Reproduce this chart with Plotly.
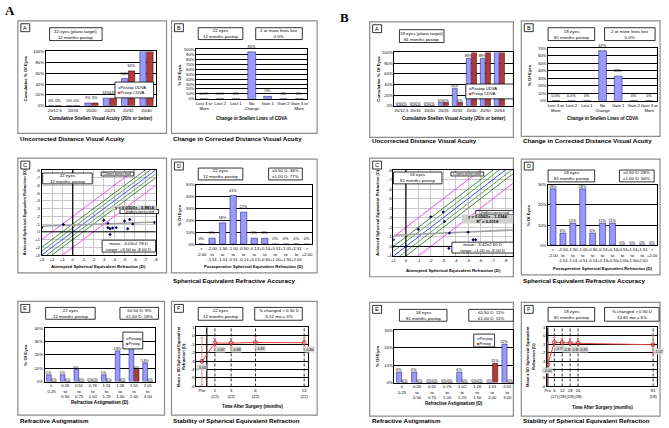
import plotly.graph_objects as go

W, H = 669, 428
BLUE = "#9999FF"
BLUE_EDGE = "#2A2A7A"
RED = "#B23A3A"
FONT = "Liberation Sans"

# ---------------- DATA ----------------
# Group A: 22 eyes, 12 months postop
a_udva_cats = ["20/12.5", "20/16", "20/20", "20/25", "20/32", "20/40"]
a_udva_postop = [0, 0, 5, 14, 50, 100]
a_cdva_preop = [0, 0, 5, 14, 64, 100]

change_cats = ["Lost 3 or<br>More", "Lost 2", "Lost 1", "No<br>Change", "Gain 1", "Gain 2", "Gain 3 or<br>More"]
a_change = [0, 0, 0, 95, 5, 0, 0]
a_change_labels = ["0.0%", "0.0%", "0%", "95%", "5%", "0%", "0%"]

a_attempted = [3.0, 0.9, -3.0, -3.4, -3.4, -3.6, -3.85, -4.2, -3.6, -5.0, -5.5, -5.3, -5.8, -7.9]
a_achieved = [-0.55, -0.95, -1.5, -1.1, -0.55, -0.4, -0.5, -0.55, 0.35, -1.4, -1.6, -0.4, -1.0, -1.2]
a_fit = [0.0503, -0.8814]

se_cats = ["<<br>-2.00", "-2.00<br>to<br>-1.51", "-1.50<br>to<br>-1.01", "-1.00<br>to<br>-0.51",
           "-0.50<br>to<br>-0.14", "-0.13<br>to<br>+0.13", "+0.14<br>to<br>+0.50", "+0.51<br>to<br>+1.00",
           "+1.01<br>to<br>+1.50", "+1.51<br>to<br>+2.00", "><br>+2.00"]
a_se = [0, 5, 18, 41, 27, 5, 5, 0, 0, 0, 0]

cyl_cats = ["≤<br>0.25", "0.26<br>to<br>0.50", "0.51<br>to<br>0.75", "0.76<br>to<br>1.00",
            "1.01<br>to<br>1.25", "1.26<br>to<br>1.50", "1.51<br>to<br>2.00", "2.01<br>to<br>3.00"]
a_cyl_postop = [5, 5, 9, 0, 5, 23, 32, 14]
a_cyl_preop = [0, 0, 0, 0, 0, 0, 9, 0]

a_months = [-0.6, 1, 3, 6, 12]
a_month_labels = ["Pre", "1<br>(22)", "3<br>(22)", "6<br>(22)", "12<br>(22)"]
a_se_mean = [-3.03, -0.87, -0.88, -0.81, -0.84]
a_se_sd = [2.78, 0.57, 0.55, 0.70, 0.65]

# Group B: 18 eyes, 81 months postop
b_udva_cats = ["20/12.5", "20/16", "20/20", "20/25", "20/32", "20/40", "20/50", "20/63"]
b_udva_postop = [0, 0, 0, 6, 33, 89, 89, 100]
b_cdva_preop = [0, 0, 0, 6, 6, 100, 100, 100]

b_change = [0, 0, 0, 67, 33, 0, 0]
b_change_labels = ["0.0%", "0.0%", "0%", "67%", "33%", "0%", "0%"]

b_attempted = [1.0, 1.0, 0.0, -2.0, -3.0, -3.5, -3.45, -5.0, -5.4, -5.6, -3.1, -1.0]
b_achieved = [-0.7, 0.0, 0.0, -3.1, -3.6, -1.4, 0.2, -1.5, -0.7, -0.7, -2.6, -1.8]
b_fit = [0.0563, -1.2344]

b_se = [28, 6, 11, 28, 6, 11, 11, 0, 0, 0, 0]

b_cyl_postop = [6, 6, 0, 0, 6, 0, 0, 22]
b_cyl_preop = [0, 0, 0, 0, 0, 0, 11, 0]

b_months = [1, 6, 12, 18, 24, 81]
b_month_labels = ["Pre", "6<br>(17)", "12<br>(18)", "18<br>(18)", "24<br>(18)", "81<br>(18)"]
b_se_mean = [-3.42, -0.79, -0.83, -0.86, -0.91, -1.07]
b_se_sd = [2.60, 0.55, 0.55, 0.55, 0.60, 1.05]

# ---------------- HELPERS ----------------
layout = dict(width=W, height=H, autosize=False, margin=dict(l=0, r=0, t=0, b=0),
              paper_bgcolor="white", plot_bgcolor="white", showlegend=False,
              font=dict(family=FONT, size=5, color="black"), barmode="overlay")
shapes, annotations, traces = [], [], []
axn = [0]


def px(x):
    return x / W


def py(y):
    return 1 - y / H


def add_axes(x0, y0, x1, y1, xkw, ykw):
    axn[0] += 1
    n = axn[0]
    s = "" if n == 1 else str(n)
    base = dict(showline=True, mirror=True, linecolor="black", linewidth=0.8, ticks="",
                tickfont=dict(size=4.2, family=FONT), zeroline=False, fixedrange=True)
    xd = dict(base); xd.update(domain=[px(x0), px(x1)], anchor="y" + s); xd.update(xkw)
    yd = dict(base); yd.update(domain=[py(y1), py(y0)], anchor="x" + s); yd.update(ykw)
    layout["xaxis" + s] = xd
    layout["yaxis" + s] = yd
    return "x" + s, "y" + s


def rect(x0, y0, x1, y1, color="black", width=0.8, fill="rgba(0,0,0,0)", layer="above", dash="solid"):
    shapes.append(dict(type="rect", xref="paper", yref="paper", x0=px(x0), x1=px(x1), y0=py(y1), y1=py(y0),
                       line=dict(color=color, width=width, dash=dash), fillcolor=fill, layer=layer))


def text(x, y, t, size=4.5, bold=False, xanchor="center", angle=0, color="black", fam=FONT):
    if bold:
        t = "<b>" + t + "</b>"
    annotations.append(dict(xref="paper", yref="paper", x=px(x), y=py(y), text=t, showarrow=False,
                            font=dict(size=size, family=fam, color=color), xanchor=xanchor, yanchor="middle",
                            textangle=angle))


def tbox(x0, y0, x1, y1, t, size=4.4, fill="white"):
    rect(x0, y0, x1, y1, fill=fill)
    text((x0 + x1) / 2, (y0 + y1) / 2, t, size=size)


def panel(x0, y0, x1, y1, letter):
    rect(x0, y0, x1, y1, color="#8C8C8C", width=1.2, layer="below")
    rect(x0 + 3, y0 + 3, x0 + 12, y0 + 11, color="black", width=0.8)
    text(x0 + 7.5, y0 + 7, letter, size=5.5)


def legend_box(x0, y0, x1, y1, names):
    rect(x0, y0, x1, y1, fill="white")
    t = "<br>".join("<span style='color:%s'>■</span>%s" % (c, n) for c, n in names)
    annotations.append(dict(xref="paper", yref="paper", x=px(x0 + 1.5), y=py((y0 + y1) / 2), text=t,
                            showarrow=False, align="left", xanchor="left", yanchor="middle",
                            font=dict(size=4.2, family=FONT)))


def bars2(xa, ya, v1, v2, w=0.34):
    n = list(range(len(v1)))
    traces.append(go.Bar(x=n, y=v1, xaxis=xa, yaxis=ya, width=w, offset=-w - 0.02, marker=dict(color=BLUE, line=dict(color=BLUE_EDGE, width=0.6)),
                         text=["%d%%" % v for v in v1], textposition="outside", textfont=dict(size=3.8, family=FONT),
                         constraintext="none", cliponaxis=True))
    traces.append(go.Bar(x=n, y=v2, xaxis=xa, yaxis=ya, width=w, offset=0.02, marker=dict(color=RED, line=dict(color="#3A1010", width=0.6)),
                         text=["%d%%" % v for v in v2], textposition="outside", textfont=dict(size=3.8, family=FONT),
                         constraintext="none", cliponaxis=True))


def bars1(xa, ya, v, labels=None, w=0.55):
    n = list(range(len(v)))
    traces.append(go.Bar(x=n, y=v, xaxis=xa, yaxis=ya, width=w, marker=dict(color=BLUE, line=dict(color=BLUE_EDGE, width=0.6)),
                         text=labels if labels else ["%d%%" % q for q in v], textposition="outside",
                         textfont=dict(size=3.9, family=FONT), constraintext="none", cliponaxis=False))


def pct_axis(top, step):
    return dict(range=[0, top], tickvals=list(range(0, top + 1, step)), ticktext=["%d%%" % t for t in range(0, top + 1, step)],
                showgrid=True, gridcolor="black", gridwidth=0.6)


def cat_axis(cats, rng):
    return dict(range=rng, tickvals=list(range(len(cats))), ticktext=cats, showgrid=False, tickangle=0)


def udva_panel(box, plot, info, leg, cats, v1, v2, rng, letter="A"):
    panel(*box, letter)
    xa, ya = add_axes(*plot, cat_axis(cats, rng), pct_axis(100, 20))
    bars2(xa, ya, v1, v2)
    tbox(*info)
    legend_box(*leg, [(BLUE, "Postop UDVA"), (RED, "Preop CDVA")])
    text(box[0] + 8, (plot[1] + plot[3]) / 2, "Cumulative % Of Eyes", size=4.3, bold=True, angle=-90)
    text((plot[0] + plot[2]) / 2 if box[2] > 400 and box[0] < 400 else (plot[0] + plot[2]) / 2, 117,
         "Cumulative Snellen Visual Acuity (20/x or better)", size=4.5, bold=True)


def change_panel(box, plot, info1, info2, vals, labels, top):
    panel(*box, "B")
    xa, ya = add_axes(*plot, cat_axis(change_cats, [-0.5, 6.5]), pct_axis(top, 10))
    bars1(xa, ya, vals, labels, w=0.5)
    tbox(*info1)
    tbox(*info2)
    text(box[0] + 8, (plot[1] + plot[3]) / 2, "% Of Eyes", size=4.3, bold=True, angle=-90)
    text((plot[0] + plot[2]) / 2, 117, "Change in Snellen Lines of CDVA", size=4.5, bold=True)


def scatter_panel(box, plot, xr, yr, att, ach, fit, info, over, under, eq, mean):
    panel(*box, "C")
    xt = list(range(int(min(xr)), int(max(xr)) + 1))
    yt = list(range(int(min(yr)), int(max(yr)) + 1))
    lab = lambda v: ("+%d" % v) if v > 0 else str(v)
    xa, ya = add_axes(*plot,
                      dict(range=xr, tickvals=xt, ticktext=[lab(v) for v in xt], showgrid=True, gridcolor="#C8C8C8", gridwidth=0.5),
                      dict(range=yr, tickvals=yt, ticktext=[lab(v) for v in yt], showgrid=True, gridcolor="#C8C8C8", gridwidth=0.5))
    lo, hi = -9, 4
    for off, col, wd in [(0, "#3333FF", 0.9), (0.5, "#2E8B2E", 0.8), (-0.5, "#2E8B2E", 0.8),
                         (1.0, "#1F5F1F", 0.8), (-1.0, "#1F5F1F", 0.8), (2.0, "#FF33FF", 0.9), (-2.0, "#FF33FF", 0.9)]:
        traces.append(go.Scatter(x=[lo, hi], y=[lo + off, hi + off], mode="lines", xaxis=xa, yaxis=ya,
                                 line=dict(color=col, width=wd), hoverinfo="skip"))
    traces.append(go.Scatter(x=[0, 0], y=[lo, hi], mode="lines", xaxis=xa, yaxis=ya, line=dict(color="black", width=1.2)))
    traces.append(go.Scatter(x=[lo, hi], y=[0, 0], mode="lines", xaxis=xa, yaxis=ya, line=dict(color="black", width=1.0)))
    fx = [max(xr), min(xr)]
    traces.append(go.Scatter(x=fx, y=[fit[0] * v + fit[1] for v in fx], mode="lines", xaxis=xa, yaxis=ya,
                             line=dict(color="#A0A0A0", width=1.6)))
    traces.append(go.Scatter(x=att, y=ach, mode="markers", xaxis=xa, yaxis=ya,
                             marker=dict(symbol="diamond", size=2.6, color="#000066")))
    tbox(*info)
    tbox(*over)
    tbox(*under)
    rect(*eq[:4], color="rgba(0,0,0,0)", fill="#D0D0D0")
    text((eq[0] + eq[2]) / 2, (eq[1] + eq[3]) / 2, eq[4], size=4.2, bold=True)
    tbox(*mean)
    text(box[0] + 7, (plot[1] + plot[3]) / 2, "Achieved Spherical Equivalent Refraction (D)", size=4.0, bold=True, angle=-90)
    text((plot[0] + plot[2]) / 2, box[3] - 6, "Attempted Spherical Equivalent Refraction (D)", size=4.3, bold=True)


def se_panel(box, plot, info1, info2, vals, top):
    panel(*box, "D")
    xa, ya = add_axes(*plot, cat_axis(se_cats, [-0.5, 10.5]), pct_axis(top, 10))
    bars1(xa, ya, vals, w=0.6)
    tbox(*info1)
    tbox(*info2)
    text(box[0] + 8, (plot[1] + plot[3]) / 2, "% Of Eyes", size=4.3, bold=True, angle=-90)
    text((plot[0] + plot[2]) / 2, box[3] - 6, "Postoperative Spherical Equivalent Refraction (D)", size=4.2, bold=True)


def cyl_panel(box, plot, info1, info2, leg, v1, v2, rng, top):
    panel(*box, "E")
    xa, ya = add_axes(*plot, cat_axis(cyl_cats, rng), pct_axis(top, 10))
    bars2(xa, ya, v1, v2, w=0.34)
    tbox(*info1)
    tbox(*info2)
    legend_box(*leg, [(BLUE, "Postop"), (RED, "Preop")])
    text(box[0] + 8, (plot[1] + plot[3]) / 2, "% Of Eyes", size=4.3, bold=True, angle=-90)
    text((plot[0] + plot[2]) / 2, box[3] - 13, "Refractive Astigmatism (D)", size=4.5, bold=True)


def stab_panel(box, plot, info1, info2, months, labels, mean, sd, xr, solid_x):
    panel(*box, "F")
    xa, ya = add_axes(*plot,
                      dict(range=xr, tickvals=months, ticktext=labels, showgrid=False, tickangle=0),
                      dict(range=[-6, 1], tickvals=list(range(-6, 2)), ticktext=[str(v) for v in range(-6, 2)],
                           showgrid=True, gridcolor="black", gridwidth=0.6))
    traces.append(go.Scatter(x=[solid_x, solid_x], y=[-6, 1], mode="lines", xaxis=xa, yaxis=ya, line=dict(color="black", width=1.2)))
    for m in months[1:]:
        traces.append(go.Scatter(x=[m, m], y=[-6, 1], mode="lines", xaxis=xa, yaxis=ya,
                                 line=dict(color="black", width=0.8, dash="3px,2px")))
    traces.append(go.Scatter(x=months, y=mean, mode="lines+markers", xaxis=xa, yaxis=ya, cliponaxis=True,
                             line=dict(color="#E8403A", width=1.0),
                             marker=dict(symbol="circle-open", size=4, color="#B02020", line=dict(width=0.8)),
                             error_y=dict(type="data", array=sd, color="#F07070", thickness=0.8, width=1.5)))
    for m, v in zip(months, mean):
        annotations.append(dict(xref=xa, yref=ya, x=m, y=v - 0.75, text="%.2f" % v, showarrow=False,
                                font=dict(size=3.6, family=FONT), bgcolor="#D8D8D8", borderpad=0.5,
                                xanchor="left" if m != months[0] else "center"))
    tbox(*info1)
    tbox(*info2)
    text(box[0] + 9, (plot[1] + plot[3]) / 2, "Mean ± SD Spherical Equivalent<br>Refraction (D)", size=4.0, bold=True, angle=-90)
    text((plot[0] + plot[2]) / 2, box[3] - 9, "Time After Surgery (months)", size=4.5, bold=True)


# ---------------- GROUP A ----------------
text(7, 8, "A", size=13, bold=True, fam="Liberation Serif")
udva_panel((15, 18, 165, 132), (43, 49, 154, 104), (47, 25, 100, 38, "22 eyes (plano target)<br>12 months postop"),
           (113, 80, 152, 96), a_udva_cats, a_udva_postop, a_cdva_preop, [-0.5, 5.5])
change_panel((170, 18, 317, 132), (195, 47, 307, 97), (197, 25, 242, 37, "22 eyes<br>12 months postop"),
             (255, 25, 302, 37, "2 or more lines lost<br>0.0%"), a_change, a_change_labels, 100)
scatter_panel((15, 157, 165, 273), (39, 169, 154, 255), [3, -8], [3, -8], a_attempted, a_achieved, a_fit,
              (40, 172, 90, 183, "22 eyes<br>12 months postop"), (99, 171, 132, 175, "Overcorrected"),
              (118, 209, 157, 213, "Undercorrected"), (110, 205, 155, 209, "y = 0.0503x - 0.8814"),
              (100, 240, 154, 252, "mean: -3.03±2.78 D<br>range: +3.00 to -8.00 D"))
se_panel((170, 158, 317, 273), (195, 184, 312, 244), (197, 167, 242, 179, "22 eyes<br>12 months postop"),
         (268, 167, 302, 179, "±0.50 D: 36%<br>±1.00 D: 77%"), a_se, 50)
cyl_panel((15, 302, 163, 417), (42, 329, 153, 383), (43, 308, 93, 320, "22 eyes<br>12 months postop"),
          (118, 308, 157, 320, "≤0.50 D: 9%<br>≤1.00 D: 18%"), (121, 333, 141, 350), a_cyl_postop, a_cyl_preop, [-0.5, 7.5], 40)
stab_panel((170, 302, 317, 417), (195, 328, 308, 388), (197, 308, 242, 321, "22 eyes<br>12 months postop"),
           (254, 308, 302, 321, "% changed > 0.50 D<br>3-12 mo = 4%"), a_months, a_month_labels, a_se_mean, a_se_sd,
           [-1.3, 12.5], 0)

# ---------------- GROUP B ----------------
text(345, 15, "B", size=13, bold=True, fam="Liberation Serif")
udva_panel((370, 19, 515, 136), (395, 50, 515, 104), (400, 27, 445, 40, "18 eyes (plano target)<br>81 months postop"),
           (467, 82, 515, 97), b_udva_cats, b_udva_postop, b_cdva_preop, [-0.5, 8.0])
change_panel((523, 18, 663, 135), (550, 46, 660, 99), (550, 25, 597, 38, "18 eyes<br>81 months postop"),
             (607, 25, 658, 38, "2 or more lines lost<br>0.0%"), b_change, b_change_labels, 70)
scatter_panel((370, 157, 515, 277), (394, 169, 515, 256), [1, -8.64], [1, -8], b_attempted, b_achieved, b_fit,
              (394, 171, 443, 183, "18 eyes<br>81 months postop"), (452, 171, 485, 175, "Overcorrected"),
              (477, 210, 515, 214, "Undercorrected"), (463, 214, 515, 223, "y = 0.0563x - 1.2344<br>R² = 0.0118"),
              (453, 242, 515, 253, "mean: -3.42±2.60 D<br>range: +1.00 to -8.00 D"))
se_panel((523, 158, 663, 275), (550, 184, 660, 245), (550, 169, 597, 181, "18 eyes<br>81 months postop"),
         (622, 169, 657, 181, "±0.50 D: 28%<br>±1.00 D: 56%"), b_se, 30)
cyl_panel((370, 303, 515, 418), (395, 331, 515, 384), (400, 310, 448, 322, "18 eyes<br>81 months postop"),
          (470, 310, 515, 322, "≤0.50 D: 11%<br>≤1.00 D: 11%"), (475, 335, 496, 348), b_cyl_postop, b_cyl_preop, [-0.5, 7.4], 30)
stab_panel((523, 303, 663, 418), (549, 328, 660, 388), (550, 308, 597, 322, "18 eyes<br>81 months postop"),
           (607, 308, 662, 322, "% changed > 0.50 D<br>12-81 mo = 6%"), b_months, b_month_labels, b_se_mean, b_se_sd,
           [0.5, 84], 1)

# ---------------- CAPTIONS ----------------
for x, y, t in [(15, 137.5, "Uncorrected Distance Visual Acuity"), (170, 137.5, "Change in Corrected Distance Visual Acuity"),
                (370, 139, "Uncorrected Distance Visual Acuity"), (523, 139, "Change in Corrected Distance Visual Acuity"),
                (170, 280.5, "Spherical Equivalent Refractive Accuracy"), (523, 281, "Spherical Equivalent Refractive Accuracy"),
                (15, 422, "Refractive Astigmatism"), (170, 422, "Stability of Spherical Equivalent Refraction"),
                (370, 422.5, "Refractive Astigmatism"), (523, 422.5, "Stability of Spherical Equivalent Refraction")]:
    text(x, y, t, size=6.2, bold=True, xanchor="left")

layout["shapes"] = shapes
layout["annotations"] = annotations
fig = go.Figure(data=traces, layout=layout)
fig.write_html("out.html")
